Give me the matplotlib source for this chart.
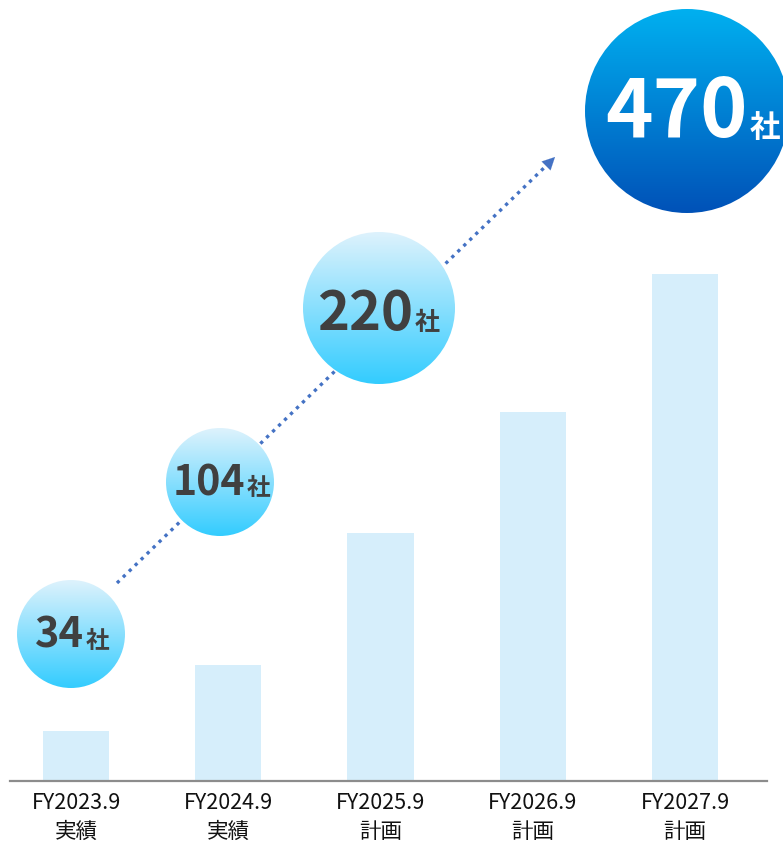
import numpy as np
import matplotlib
matplotlib.use("Agg")
import matplotlib.pyplot as plt
from matplotlib.patches import Circle

plt.rcParams['font.family'] = ['Noto Sans CJK JP', 'DejaVu Sans']

# data
periods = ["FY2023.9", "FY2024.9", "FY2025.9", "FY2026.9", "FY2027.9"]
kinds = ["実績", "実績", "計画", "計画", "計画"]
bar_heights = [50, 116, 248, 369, 507]          # decorative bar heights
companies = [34, 104, 220, 470]                  # values shown in bubbles
unit = "社"

W, H = 783, 844
fig = plt.figure(figsize=(W / 100, H / 100), dpi=100)

# bars
ax = fig.add_axes([10 / W, 63 / H, 757 / W, 781 / H])
x = np.arange(len(periods))
ax.bar(x, bar_heights, width=0.435, color="#D6EEFB", zorder=1)
ax.set_xlim(-0.4335, 4.5386)
ax.set_ylim(0, 781)
for s in ["top", "left", "right"]:
    ax.spines[s].set_visible(False)
ax.spines["bottom"].set_color("#8C8C8C")
ax.spines["bottom"].set_linewidth(1.6)
ax.set_yticks([])
ax.set_xticks(x, [f"{p}\n{k}" for p, k in zip(periods, kinds)])
ax.tick_params(axis="x", length=0, pad=8, labelsize=15.5, labelcolor="#111111")
for lab in ax.get_xticklabels():
    lab.set_linespacing(1.38)

# overlay in pixel coordinates for bubbles and arrow
ov = fig.add_axes([0, 0, 1, 1])
ov.patch.set_alpha(0)

# dotted trend arrow
ov.plot([117, 549], [583, 163], color="#4472C4", lw=2.4,
        linestyle=(0, (1, 1.5)), dash_capstyle="butt", zorder=2)
ov.annotate("", xy=(557, 155), xytext=(546, 166),
            arrowprops=dict(arrowstyle="-|>,head_length=0.9,head_width=0.45",
                            color="#4472C4", lw=0.1), zorder=2)

bubbles = [
    # (cx, cy, r, top colour, bottom colour, text colour, num size, unit size, split x, baseline y)
    (71, 634, 54, (0.87, 0.95, 0.99), (0.20, 0.80, 1.0), "#404040", 30, 17, 84, 648),
    (220, 482, 54, (0.87, 0.95, 0.99), (0.20, 0.80, 1.0), "#404040", 29.5, 17, 245, 495),
    (379, 308, 76, (0.87, 0.95, 0.99), (0.20, 0.80, 1.0), "#404040", 39, 18, 413, 330),
    (687, 111, 102, (0.0, 0.69, 0.94), (0.0, 0.32, 0.72), "white", 58, 22, 748, 137),
]

for val, (cx, cy, r, c0, c1, tc, fs, us, sx, by) in zip(companies, bubbles):
    t = np.linspace(0, 1, 256)[:, None]
    grad = (1 - t)[..., None] * np.array(c0) + t[..., None] * np.array(c1)
    grad = np.repeat(grad, 2, axis=1)
    im = ov.imshow(grad, extent=(cx - r, cx + r, cy + r, cy - r), origin="upper",
                   interpolation="bilinear", zorder=3)
    circ = Circle((cx, cy), r, transform=ov.transData, facecolor="none", edgecolor="none")
    ov.add_patch(circ)
    im.set_clip_path(circ)
    ov.text(sx, by, str(val), ha="right", va="baseline", fontsize=fs,
            fontweight="bold", color=tc, zorder=4)
    ov.text(sx + 2, by, unit, ha="left", va="baseline", fontsize=us,
            fontweight="bold", color=tc, zorder=4)

ov.set_xlim(0, W)
ov.set_ylim(H, 0)
ov.set_aspect("auto")
ov.axis("off")

fig.savefig("out.png", dpi=100)
